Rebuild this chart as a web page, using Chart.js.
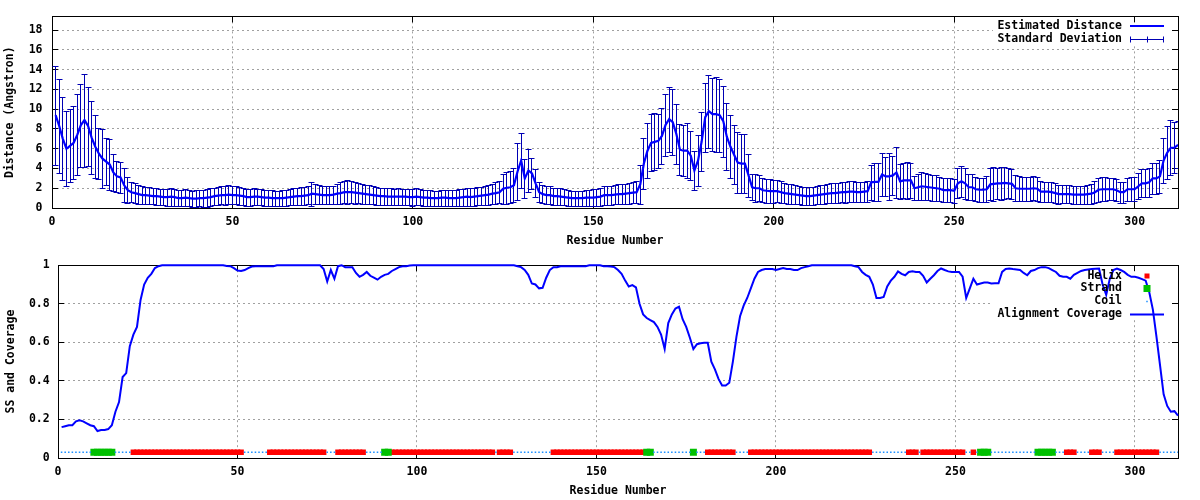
<!DOCTYPE html>
<html>
<head>
<meta charset="utf-8">
<script src="https://cdn.jsdelivr.net/npm/chart.js@4.4.1/dist/chart.umd.min.js"></script>
<style>
  html, body { margin: 0; padding: 0; background: #fff; }
  canvas { display: block; }
</style>
</head>
<body>
<canvas id="distChart" width="1200" height="250"></canvas>
<canvas id="ssChart" width="1200" height="250"></canvas>
<script>
// residue 1..312, one value per residue
const distAvg = [
  9.4, 8.3, 7.0, 6.0, 6.3, 6.6, 7.4, 8.4, 8.9, 8.3,
  7.1, 6.2, 5.5, 5.0, 4.7, 4.4, 3.6, 3.2, 3.1, 2.3,
  1.8, 1.6, 1.5, 1.4, 1.3, 1.3, 1.25, 1.2, 1.2, 1.15,
  1.1, 1.1, 1.15, 1.1, 1.0, 1.0, 1.05, 1.0, 0.95, 0.95,
  1.0, 1.0, 1.05, 1.1, 1.2, 1.25, 1.3, 1.3, 1.35, 1.3,
  1.3, 1.25, 1.2, 1.1, 1.1, 1.15, 1.15, 1.1, 1.05, 1.05,
  1.0, 1.0, 1.0, 1.0, 1.05, 1.1, 1.15, 1.2, 1.2, 1.25,
  1.3, 1.45, 1.4, 1.35, 1.3, 1.3, 1.3, 1.35, 1.45, 1.5,
  1.6, 1.6, 1.6, 1.55, 1.5, 1.45, 1.4, 1.35, 1.3, 1.25,
  1.2, 1.2, 1.15, 1.15, 1.15, 1.15, 1.15, 1.15, 1.1, 1.1,
  1.15, 1.1, 1.05, 1.05, 1.0, 1.0, 1.0, 1.05, 1.05, 1.0,
  1.0, 1.0, 1.05, 1.1, 1.15, 1.1, 1.15, 1.2, 1.25, 1.3,
  1.35, 1.45, 1.5, 1.6, 1.95, 2.05, 2.1, 2.3, 3.7, 4.8,
  3.0, 3.8, 3.5, 2.5, 1.6, 1.4, 1.3, 1.3, 1.2, 1.2,
  1.15, 1.1, 1.05, 1.0, 1.0, 1.0, 1.0, 1.05, 1.05, 1.05,
  1.1, 1.15, 1.3, 1.3, 1.3, 1.35, 1.4, 1.4, 1.45, 1.5,
  1.55, 1.6, 2.4, 4.5, 5.8, 6.6, 6.7, 6.8, 7.3, 8.4,
  9.0, 8.7, 7.5, 5.9, 5.8, 5.8, 5.3, 3.8, 4.8, 6.7,
  9.2, 9.8, 9.5, 9.5, 9.4, 8.8, 7.2, 6.2, 5.4, 4.6,
  4.5, 4.5, 3.3, 2.1, 2.0, 2.0, 1.8, 1.75, 1.7, 1.7,
  1.7, 1.6, 1.5, 1.45, 1.4, 1.35, 1.3, 1.25, 1.2, 1.2,
  1.25, 1.3, 1.35, 1.4, 1.45, 1.5, 1.5, 1.55, 1.6, 1.6,
  1.65, 1.65, 1.6, 1.6, 1.65, 1.7, 2.6, 2.65, 2.65, 3.4,
  3.2, 3.2, 3.3, 3.6, 2.7, 2.8, 2.8, 2.8, 2.0, 2.1,
  2.2, 2.15, 2.1, 2.05, 2.0, 1.95, 1.8, 1.8, 1.8, 1.75,
  2.5, 2.7, 2.5, 2.1, 2.1, 1.9, 1.85, 1.85, 1.9, 2.4,
  2.45, 2.5, 2.5, 2.55, 2.5, 2.45, 2.0, 1.95, 1.95, 1.95,
  1.95, 2.0, 1.95, 1.65, 1.65, 1.65, 1.6, 1.5, 1.4, 1.4,
  1.4, 1.4, 1.35, 1.35, 1.35, 1.35, 1.4, 1.45, 1.6, 1.85,
  1.9, 1.9, 1.9, 1.9, 1.8, 1.6, 1.6, 1.9, 1.9, 1.9,
  2.2, 2.5, 2.5, 2.6, 3.0, 3.0, 3.2, 4.8, 5.6, 6.1,
  6.1, 6.4
];

const distSd = [
  5.0, 4.8, 4.2, 3.8, 3.7, 3.7, 4.1, 4.2, 4.7, 4.0,
  3.7, 3.2, 2.6, 3.0, 2.4, 2.6, 1.9, 1.6, 1.6, 1.7,
  1.3, 1.0, 1.0, 0.95, 0.9, 0.85, 0.85, 0.8, 0.85, 0.8,
  0.8, 0.85, 0.9, 0.85, 0.8, 0.8, 0.85, 0.8, 0.8, 0.85,
  0.8, 0.85, 0.9, 0.9, 0.85, 0.9, 0.9, 0.95, 0.95, 0.9,
  0.9, 0.9, 0.85, 0.85, 0.85, 0.85, 0.8, 0.8, 0.8, 0.8,
  0.8, 0.75, 0.75, 0.8, 0.8, 0.8, 0.85, 0.85, 0.9, 0.9,
  0.9, 1.2, 1.0, 0.95, 0.9, 0.9, 0.9, 0.9, 1.0, 1.1,
  1.1, 1.2, 1.1, 1.1, 1.0, 1.0, 0.95, 0.95, 0.9, 0.9,
  0.85, 0.85, 0.85, 0.85, 0.8, 0.85, 0.8, 0.8, 0.8, 0.85,
  0.85, 0.8, 0.8, 0.8, 0.8, 0.75, 0.75, 0.8, 0.8, 0.8,
  0.8, 0.8, 0.85, 0.85, 0.9, 0.9, 0.9, 0.9, 0.9, 0.95,
  1.0, 1.0, 1.1, 1.1, 1.5, 1.6, 1.6, 1.7, 2.9, 2.8,
  2.0, 2.2, 1.6, 1.4, 1.0, 0.9, 0.9, 0.9, 0.85, 0.85,
  0.85, 0.8, 0.8, 0.75, 0.75, 0.75, 0.75, 0.8, 0.8, 0.85,
  0.85, 0.9, 0.95, 0.95, 0.95, 0.95, 1.0, 1.0, 1.0, 1.05,
  1.05, 1.1, 2.0, 2.6, 2.8, 2.9, 2.9, 2.7, 2.8, 3.1,
  3.3, 3.3, 3.0, 2.6, 2.6, 2.8, 2.5, 2.0, 2.6, 3.0,
  3.5, 3.7, 3.7, 3.8, 3.7, 3.6, 3.4, 3.2, 3.0, 3.1,
  3.0, 3.0, 2.2, 1.3, 1.4, 1.3, 1.2, 1.2, 1.2, 1.15,
  1.1, 1.1, 1.0, 1.0, 1.0, 0.95, 0.9, 0.9, 0.9, 0.9,
  0.9, 0.9, 0.95, 0.95, 0.95, 1.0, 1.0, 1.0, 1.0, 1.05,
  1.05, 1.05, 1.0, 1.0, 1.0, 1.05, 1.8, 1.9, 1.9, 2.2,
  2.0, 2.4, 2.0, 2.6, 1.8, 1.8, 1.9, 1.8, 1.2, 1.3,
  1.4, 1.35, 1.3, 1.3, 1.3, 1.2, 1.2, 1.2, 1.2, 1.2,
  1.5, 1.6, 1.6, 1.3, 1.3, 1.2, 1.2, 1.2, 1.3, 1.6,
  1.7, 1.6, 1.7, 1.6, 1.5, 1.5, 1.3, 1.25, 1.2, 1.2,
  1.2, 1.2, 1.2, 1.05, 1.0, 1.0, 1.0, 1.0, 0.95, 0.9,
  0.9, 0.9, 0.9, 0.9, 0.9, 0.9, 0.95, 1.0, 1.1, 1.2,
  1.2, 1.2, 1.1, 1.1, 1.1, 1.05, 1.05, 1.15, 1.2, 1.2,
  1.3, 1.4, 1.4, 1.5, 1.6, 1.6, 1.7, 2.3, 2.7, 2.8,
  2.6, 2.4
];

const coverage = [
  0.16, 0.165, 0.17, 0.17, 0.19, 0.195, 0.19, 0.18, 0.17, 0.165,
  0.14, 0.145, 0.145, 0.15, 0.17, 0.24, 0.29, 0.42, 0.44, 0.58,
  0.64, 0.68, 0.82, 0.9, 0.935, 0.955, 0.985, 0.995, 1, 1,
  1, 1, 1, 1, 1, 1, 1, 1, 1, 1,
  1, 1, 1, 1, 1, 1, 0.996, 0.995, 0.985, 0.972,
  0.97, 0.975, 0.985, 0.993, 0.995, 0.995, 0.995, 0.995, 0.995, 0.995,
  1, 1, 1, 1, 1, 1, 1, 1, 1, 1,
  1, 1, 1, 0.98, 0.915, 0.975, 0.93, 0.995, 1, 0.99,
  0.99, 0.99, 0.96, 0.94, 0.95, 0.965, 0.945, 0.935, 0.925, 0.94,
  0.95, 0.955, 0.97, 0.98, 0.99, 0.995, 0.995, 0.998, 1, 1,
  1, 1, 1, 1, 1, 1, 1, 1, 1, 1,
  1, 1, 1, 1, 1, 1, 1, 1, 1, 1,
  1, 1, 1, 1, 1, 1, 1, 0.995, 0.99, 0.975,
  0.95, 0.905, 0.9, 0.88, 0.883, 0.935, 0.975, 0.99, 0.99, 0.995,
  0.995, 0.995, 0.995, 0.995, 0.995, 0.995, 0.995, 1, 1, 1,
  1, 0.995, 0.995, 0.993, 0.99, 0.975, 0.955, 0.92, 0.89, 0.897,
  0.885, 0.8, 0.745, 0.726, 0.715, 0.705, 0.68, 0.64, 0.565, 0.7,
  0.745, 0.775, 0.785, 0.72, 0.68, 0.625, 0.565, 0.59, 0.595, 0.598,
  0.598, 0.5, 0.46, 0.41, 0.376, 0.376, 0.39, 0.5, 0.63, 0.735,
  0.79, 0.83, 0.88, 0.93, 0.965, 0.975, 0.98, 0.98, 0.98, 0.975,
  0.98, 0.985, 0.98, 0.98, 0.975, 0.975, 0.985, 0.99, 0.995, 1,
  1, 1, 1, 1, 1, 1, 1, 1, 1, 1,
  1, 0.995, 0.99, 0.965, 0.95, 0.94, 0.9, 0.83, 0.83, 0.835,
  0.89, 0.92, 0.94, 0.968, 0.955, 0.948, 0.965, 0.968, 0.965, 0.965,
  0.945, 0.91, 0.93, 0.948, 0.97, 0.983, 0.975, 0.968, 0.965, 0.965,
  0.965, 0.94, 0.83, 0.88, 0.93, 0.9, 0.905, 0.91, 0.91, 0.905,
  0.906, 0.906, 0.965, 0.98, 0.983, 0.98, 0.978, 0.975, 0.96, 0.948,
  0.97, 0.975, 0.985, 0.99, 0.99, 0.985, 0.975, 0.965, 0.945, 0.94,
  0.94, 0.93, 0.95, 0.96, 0.97, 0.975, 0.978, 0.98, 0.982, 0.983,
  0.9, 0.846, 0.93, 0.975, 0.983, 0.975, 0.965, 0.95, 0.94, 0.94,
  0.935, 0.928, 0.92, 0.86, 0.77, 0.63, 0.48, 0.33, 0.27, 0.24,
  0.243, 0.22
];

// secondary structure per residue: H helix, E strand, C coil
const ssCodes = [
  'CCCCCCCCCE', 'EEEEECCCCC', 'HHHHHHHHHH', 'HHHHHHHHHH', 'HHHHHHHHHH',
  'HCCCCCCCHH', 'HHHHHHHHHH', 'HHHHCCCHHH', 'HHHHHCCCCC', 'EEHHHHHHHH',
  'HHHHHHHHHH', 'HHHHHHHHHH', 'HCHHHHCCCC', 'CCCCCCCHHH', 'HHHHHHHHHH',
  'HHHHHHHHHH', 'HHHEECCCCC', 'CCCCCCECCC', 'HHHHHHHHCC', 'CCHHHHHHHH',
  'HHHHHHHHHH', 'HHHHHHHHHH', 'HHHHHHCCCC', 'CCCCCCHHHC', 'HHHHHHHHHH',
  'HHCCHCEEEC', 'CCCCCCCCCC', 'CCEEEEECCC', 'HHHCCCCHHH', 'CCCCHHHHHH',
  'HHHHHHCCCC', 'CC'
].join('');

const xTicks = [0, 50, 100, 150, 200, 250, 300];
const distTicks = [0, 2, 4, 6, 8, 10, 12, 14, 16, 18];
const covTicks = [0, 0.2, 0.4, 0.6, 0.8, 1];
const ssLevel = 0.03;

const BLUE = '#0000ff';
const NAVY = '#0000b4';
const RED = '#ff0000';
const GREEN = '#00c000';
const COIL = '#1e90ff';

Chart.defaults.font.family = "'DejaVu Sans Mono', monospace";
Chart.defaults.font.size = 11.5;
Chart.defaults.font.weight = 'bold';
Chart.defaults.color = '#000';

// gnuplot-like frame: key background, border, inward ticks
const gnuFrame = {
    id: 'gnuFrame',
    beforeDatasetsDraw(chart, args, opts) {
        const { ctx, chartArea: a, scales: { x, y } } = chart;
        const al = p => Math.round(p - 0.5) + 0.5;
        ctx.save();
        const k = opts.keyBox;
        ctx.fillStyle = '#fff';
        ctx.fillRect(k[0], k[1], k[2] - k[0], k[3] - k[1]);
        ctx.strokeStyle = '#000';
        ctx.lineWidth = 1;
        ctx.strokeRect(al(a.left), al(a.top), al(a.right) - al(a.left), al(a.bottom) - al(a.top));
        ctx.beginPath();
        const L = 6;
        x.ticks.forEach(t => {
            const px = al(x.getPixelForValue(t.value));
            ctx.moveTo(px, a.bottom); ctx.lineTo(px, a.bottom - L);
            ctx.moveTo(px, a.top); ctx.lineTo(px, a.top + L);
        });
        y.ticks.forEach(t => {
            const py = al(y.getPixelForValue(t.value));
            ctx.moveTo(a.left, py); ctx.lineTo(a.left + L, py);
            ctx.moveTo(a.right, py); ctx.lineTo(a.right - L, py);
        });
        ctx.stroke();
        ctx.restore();
    },
    afterDatasetsDraw(chart, args, opts) {
        const ctx = chart.ctx;
        ctx.save();
        ctx.font = "bold 11.5px 'DejaVu Sans Mono', monospace";
        ctx.textAlign = 'right';
        ctx.textBaseline = 'middle';
        ctx.fillStyle = '#000';
        const [s0, s1] = opts.sample;
        const mid = (s0 + s1) / 2;
        opts.items.forEach(it => {
            ctx.fillText(it.text, opts.textRight, it.y);
            ctx.strokeStyle = it.color;
            ctx.fillStyle = it.color;
            if (it.kind === 'line') {
                ctx.lineWidth = 2;
                ctx.beginPath(); ctx.moveTo(s0, it.y); ctx.lineTo(s1, it.y); ctx.stroke();
            } else if (it.kind === 'errorbar') {
                const yy = Math.round(it.y) + 0.5;
                ctx.lineWidth = 1;
                ctx.beginPath();
                ctx.moveTo(s0, yy); ctx.lineTo(s1, yy);
                [s0 + 0.5, mid + 0.5, s1 - 0.5].forEach(px => { ctx.moveTo(px, yy - 3); ctx.lineTo(px, yy + 3); });
                ctx.stroke();
            } else {
                ctx.fillRect(mid - it.size / 2, it.y - it.size / 2, it.size, it.size);
            }
            ctx.fillStyle = '#000';
        });
        ctx.restore();
    }
};

// standard deviation bars around the estimated distance
const errorBars = {
    id: 'errorBars',
    beforeDatasetsDraw(chart) {
        const { ctx, chartArea: a, scales: { x, y } } = chart;
        ctx.save();
        ctx.beginPath();
        ctx.rect(a.left, a.top, a.right - a.left, a.bottom - a.top);
        ctx.clip();
        ctx.strokeStyle = NAVY;
        ctx.lineWidth = 1;
        ctx.beginPath();
        distAvg.forEach((m, i) => {
            const px = Math.round(x.getPixelForValue(i + 1) - 0.5) + 0.5;
            const top = Math.round(y.getPixelForValue(m + distSd[i])) + 0.5;
            const lowVal = m - distSd[i];
            const bot = lowVal > 0 ? Math.round(y.getPixelForValue(lowVal)) + 0.5 : a.bottom;
            ctx.moveTo(px, top); ctx.lineTo(px, bot);
            ctx.moveTo(px - 3, top); ctx.lineTo(px + 3, top);
            if (lowVal > 0) { ctx.moveTo(px - 3, bot); ctx.lineTo(px + 3, bot); }
        });
        ctx.stroke();
        ctx.restore();
    }
};

function xAxis() {
    return {
        type: 'linear', min: 0, max: 312,
        afterBuildTicks: s => { s.ticks = xTicks.map(v => ({ value: v })); },
        afterFit: s => { s.height = 42; },
        ticks: { padding: 7, maxRotation: 0, autoSkip: false, callback: v => String(v) },
        grid: { color: '#a0a0a0', drawTicks: false },
        border: { display: false, dash: [2, 3] },
        title: { display: true, text: 'Residue Number', padding: { top: 0, bottom: 2 } }
    };
}

function yAxis(tickVals, max, width, pad, title, titlePad) {
    return {
        type: 'linear', min: 0, max: max,
        afterBuildTicks: s => { s.ticks = tickVals.map(v => ({ value: v })); },
        afterFit: s => { s.width = width; },
        ticks: { padding: pad, autoSkip: false, callback: v => String(v) },
        grid: { color: '#a0a0a0', drawTicks: false },
        border: { display: false, dash: [2, 3] },
        title: { display: true, text: title, padding: { top: titlePad, bottom: 0 } }
    };
}

const pts = arr => arr.map((v, i) => ({ x: i + 1, y: v }));
const ssPoints = code => {
    const out = [];
    for (let i = 0; i < ssCodes.length; i++) {
        if (ssCodes[i] === code) out.push({ x: i + 1, y: ssLevel });
    }
    return out;
};

new Chart(document.getElementById('distChart'), {
    type: 'line',
    data: {
        datasets: [{
            label: 'Estimated Distance',
            data: pts(distAvg),
            borderColor: BLUE,
            borderWidth: 2.2,
            pointRadius: 0,
            tension: 0
        }]
    },
    options: {
        responsive: false,
        animation: false,
        devicePixelRatio: 1,
        layout: { padding: { left: 0, right: 22, top: 14, bottom: 0 } },
        scales: {
            x: xAxis(),
            y: yAxis(distTicks, 19.4, 52, 9.5, 'Distance (Angstron)', 3)
        },
        plugins: {
            legend: { display: false },
            tooltip: { enabled: false },
            gnuFrame: {
                keyBox: [993, 15, 1171, 46],
                textRight: 1122,
                sample: [1130, 1164],
                items: [
                    { text: 'Estimated Distance', y: 26, kind: 'line', color: BLUE },
                    { text: 'Standard Deviation', y: 39, kind: 'errorbar', color: NAVY }
                ]
            }
        }
    },
    plugins: [gnuFrame, errorBars]
});

new Chart(document.getElementById('ssChart'), {
    type: 'line',
    data: {
        datasets: [
            {
                label: 'Alignment Coverage',
                data: pts(coverage),
                borderColor: BLUE,
                borderWidth: 2,
                pointRadius: 0,
                tension: 0,
                clip: false,
                order: 0
            },
            {
                label: 'Coil',
                data: ssPoints('C'),
                showLine: false,
                pointStyle: 'rect',
                pointRadius: 1.1,
                pointBorderWidth: 0,
                pointBackgroundColor: COIL,
                order: 1
            },
            {
                label: 'Strand',
                data: ssPoints('E'),
                showLine: false,
                pointStyle: 'rect',
                pointRadius: 4.95,
                pointBorderWidth: 0,
                pointBackgroundColor: GREEN,
                order: 2
            },
            {
                label: 'Helix',
                data: ssPoints('H'),
                showLine: false,
                pointStyle: 'rect',
                pointRadius: 3.9,
                pointBorderWidth: 0,
                pointBackgroundColor: RED,
                order: 3
            }
        ]
    },
    options: {
        responsive: false,
        animation: false,
        devicePixelRatio: 1,
        layout: { padding: { left: 0, right: 22, top: 13, bottom: 0 } },
        scales: {
            x: xAxis(),
            y: yAxis(covTicks, 1, 58, 8.3, 'SS and Coverage', 4)
        },
        plugins: {
            legend: { display: false },
            tooltip: { enabled: false },
            gnuFrame: {
                keyBox: [993, 14, 1171, 68],
                textRight: 1122,
                sample: [1130, 1164],
                items: [
                    { text: 'Helix', y: 26, kind: 'point', size: 5, color: RED },
                    { text: 'Strand', y: 38.5, kind: 'point', size: 7, color: GREEN },
                    { text: 'Coil', y: 51.5, kind: 'point', size: 1.5, color: COIL },
                    { text: 'Alignment Coverage', y: 64.5, kind: 'line', color: BLUE }
                ]
            }
        }
    },
    plugins: [gnuFrame]
});
</script>
</body>
</html>
